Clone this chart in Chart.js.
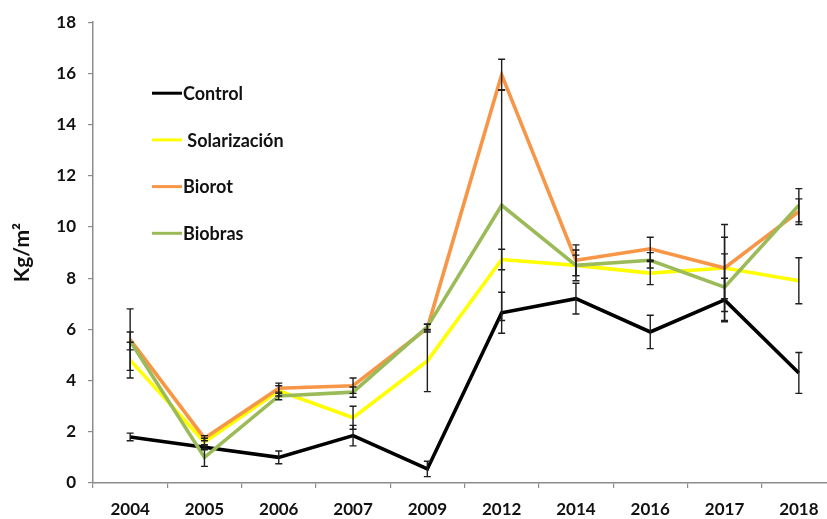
<!DOCTYPE html>
<html>
<head>
<meta charset="utf-8">
<script src="https://cdn.jsdelivr.net/npm/chart.js@4"></script>
<style>
  html, body { margin: 0; padding: 0; background: #fff; overflow: hidden; }
  #wrap { width: 845px; height: 519px; }
</style>
</head>
<body>
<div id="wrap"><canvas id="c" width="845" height="519"></canvas></div>
<script>
// Years sampled
const years = ['2004', '2005', '2006', '2007', '2009', '2012', '2014', '2016', '2017', '2018'];

// Yield per treatment (Kg/m²)
const control      = [1.8, 1.4, 1.0, 1.85, 0.55, 6.65, 7.2, 5.9, 7.15, 4.3];
const solarizacion = [4.8, 1.6, 3.6, 2.55, 4.77, 8.73, 8.5, 8.2, 8.4, 7.9];
const biorot       = [5.6, 1.75, 3.7, 3.8, 6.05, 15.95, 8.7, 9.15, 8.4, 10.6];
const biobras      = [5.55, 1.0, 3.4, 3.55, 6.1, 10.85, 8.5, 8.7, 7.65, 10.85];

// Standard error per treatment (symmetric)
const controlErr      = [0.15, 0.1, 0.25, 0.4, 0.3, 0.8, 0.6, 0.65, 0.85, 0.8];
const solarizacionErr = [0.7, 0.15, 0.2, 0.45, 1.2, 0.4, 0.6, 0.45, 1.7, 0.9];
const biorotErr       = [1.2, 0.1, 0.2, 0.3, 0.15, 0.6, 0.6, 0.45, 1.2, 0.5];
const biobrasErr      = [0.35, 0.35, 0.15, 0.2, 0.1, 4.5, 0.4, 0.3, 1.3, 0.65];

// Y axis ticks
const yTicks = [0, 2, 4, 6, 8, 10, 12, 14, 16, 18];

const FONT = 'Lato, "Open Sans", "Liberation Sans", sans-serif';
const AXIS_GREY = '#8c8c8c';

function series(label, data, err, color, order) {
  return {
    label, data, err,
    borderColor: color,
    backgroundColor: color,
    borderWidth: 3.6,
    pointRadius: 0,
    pointHoverRadius: 0,
    tension: 0,
    fill: false,
    order
  };
}

// Vertical error bars with caps, placed through the chart's scales
const errorBars = {
  id: 'errorBars',
  afterDatasetsDraw(chart) {
    const { ctx, scales: { x, y } } = chart;
    ctx.save();
    ctx.strokeStyle = '#1e1e1e';
    ctx.lineWidth = 1.4;
    chart.data.datasets.forEach(ds => {
      if (!ds.err) return;
      ds.data.forEach((v, i) => {
        const e = ds.err[i];
        const px = x.getPixelForValue(i);
        const top = y.getPixelForValue(v + e);
        const bot = y.getPixelForValue(v - e);
        ctx.beginPath();
        ctx.moveTo(px, top); ctx.lineTo(px, bot);
        ctx.moveTo(px - 3.5, top); ctx.lineTo(px + 3.5, top);
        ctx.moveTo(px - 3.5, bot); ctx.lineTo(px + 3.5, bot);
        ctx.stroke();
      });
    });
    ctx.restore();
  }
};

// Legend inside the plot, upper left, one entry per row
const innerLegend = {
  id: 'innerLegend',
  afterDraw(chart) {
    const { ctx, chartArea } = chart;
    const x0 = chartArea.left + 59;
    const y0 = chartArea.top + 71;
    const rowGap = 46.7;
    ctx.save();
    ctx.font = 'bold 18px ' + FONT;
    ctx.textBaseline = 'middle';
    ctx.textAlign = 'left';
    chart.data.datasets.forEach((ds, i) => {
      const yy = y0 + i * rowGap;
      ctx.strokeStyle = ds.borderColor;
      ctx.lineWidth = 3;
      ctx.beginPath();
      ctx.moveTo(x0, yy);
      ctx.lineTo(x0 + 30, yy);
      ctx.stroke();
      ctx.fillStyle = '#111';
      ctx.fillText(ds.label, x0 + 31, yy + 1);
    });
    ctx.restore();
  }
};

new Chart(document.getElementById('c'), {
  type: 'line',
  data: {
    labels: years,
    datasets: [
      series('Control', control, controlErr, '#000000', 3),
      series(' Solarización', solarizacion, solarizacionErr, '#FFFF00', 2),
      series('Biorot', biorot, biorotErr, '#F79646', 1),
      series('Biobras', biobras, biobrasErr, '#9BBB59', 0)
    ]
  },
  options: {
    responsive: false,
    animation: false,
    events: [],
    layout: { padding: { top: 19, right: 9, left: 0, bottom: 0 } },
    plugins: {
      legend: { display: false },
      tooltip: { enabled: false },
      title: { display: false }
    },
    scales: {
      x: {
        offset: true,
        grid: {
          offset: true,
          drawOnChartArea: false,
          drawTicks: true,
          tickLength: 5,
          color: AXIS_GREY,
          lineWidth: 1.2
        },
        border: { display: true, color: AXIS_GREY, width: 1.5 },
        ticks: {
          color: '#111',
          font: { family: FONT, size: 17, weight: 'bold' },
          padding: 11,
          maxRotation: 0,
          autoSkip: false
        },
        afterFit(scale) { scale.height = 36; }
      },
      y: {
        min: 0,
        max: 18,
        afterBuildTicks(scale) { scale.ticks = yTicks.map(v => ({ value: v })); },
        grid: {
          drawOnChartArea: false,
          drawTicks: true,
          tickLength: 5,
          color: AXIS_GREY,
          lineWidth: 1.2
        },
        border: { display: true, color: AXIS_GREY, width: 1.5 },
        ticks: {
          color: '#111',
          font: { family: FONT, size: 17, weight: 'bold' },
          padding: 12
        },
        title: {
          display: true,
          text: 'Kg/m²',
          color: '#111',
          font: { family: FONT, size: 21, weight: 'bold' },
          padding: { top: 10, bottom: 0 }
        },
        afterFit(scale) { scale.width = 93; }
      }
    }
  },
  plugins: [errorBars, innerLegend]
});
</script>
</body>
</html>
